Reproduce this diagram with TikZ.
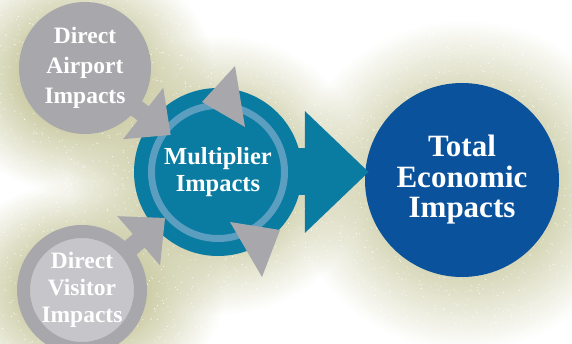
\documentclass[tikz,border=0pt]{standalone}
\usepackage{fontspec}
\setmainfont{Liberation Serif}
\usepackage{xcolor}
\usetikzlibrary{positioning, calc, arrows.meta, fadings}

\definecolor{impgray}{HTML}{A8A8AC}
\definecolor{implight}{HTML}{C6C6CA}
\definecolor{impteal}{HTML}{0A7BA1}
\definecolor{impring}{HTML}{5B9EC0}
\definecolor{impblue}{HTML}{0A529B}
\definecolor{impglow}{HTML}{CDCDA8}

% soft edge for the background glow
\pgfdeclareradialshading{glowshade}{\pgfpointorigin}{color(0bp)=(white); color(11bp)=(white); color(25bp)=(black); color(50bp)=(black)}
\pgfdeclarefading{glowfade}{\pgfuseshading{glowshade}}

\begin{document}
\begin{tikzpicture}[x=1pt,y=-1pt,
    bubble/.style={circle, inner sep=0pt, align=center, text=white},
    smallfont/.style={font=\bfseries\fontsize{23.5}{#1}\selectfont},
    grayarrow/.style={impgray, line width=18pt, -{Triangle[length=35pt,width=63pt]}},
    tealarrow/.style={impteal, line width=47pt, -{Triangle[length=64pt,width=118pt]}}]
      \useasboundingbox (0,0) rectangle (572,344);
      % glow behind the circles
      \fill[impglow, path fading=glowfade] (-55,-45) rectangle (215,195);
      \fill[impglow, path fading=glowfade] (68,35) rectangle (368,315);
      \fill[impglow, path fading=glowfade] (-55,180) rectangle (225,400);
      \fill[impglow, path fading=glowfade] (290,20) rectangle (640,350);
      \pgfmathsetseed{12}
      \foreach \i in {1,...,2600}
        \fill[white] (rnd*572,rnd*344) circle[radius=0.5pt];
      % centres
      \coordinate (air) at (85,68);
      \coordinate (vis) at (82,290);
      \coordinate (mc) at (218,172);
      \coordinate (tc) at (462,180);
      \node[bubble, fill=impblue, minimum size=194pt, font=\bfseries\fontsize{31}{30.5}\selectfont] (total) at (tc) {Total\\Economic\\Impacts};
      \draw[tealarrow] (mc) -- ($(mc -| total.west)+(4,0)$);
      \node[bubble, fill=impteal, minimum size=168pt, font=\bfseries\fontsize{24.5}{27}\selectfont] (mult) at (mc) {Multiplier\\Impacts};
      \draw[impring, line width=7pt] (mult.center) circle[radius=66.5pt];
      \draw[grayarrow, shorten >=60pt] (air) -- (mc);
      \draw[grayarrow, shorten >=70pt] (vis) -- (mc);
      \fill[impgray] (202,102) -- (235,66) -- (245,127) -- cycle;
      \fill[impgray] (230,222) -- (280,230) -- (262,277) -- cycle;
      \node[bubble, fill=impgray, minimum size=132pt, smallfont=30] (airport) at (air) {Direct\\Airport\\Impacts};
      \node[bubble, fill=implight, draw=impgray, line width=13pt, minimum size=117pt, smallfont=27] (visitor) at (vis) {Direct\\Visitor\\Impacts};
\end{tikzpicture}
\end{document}
